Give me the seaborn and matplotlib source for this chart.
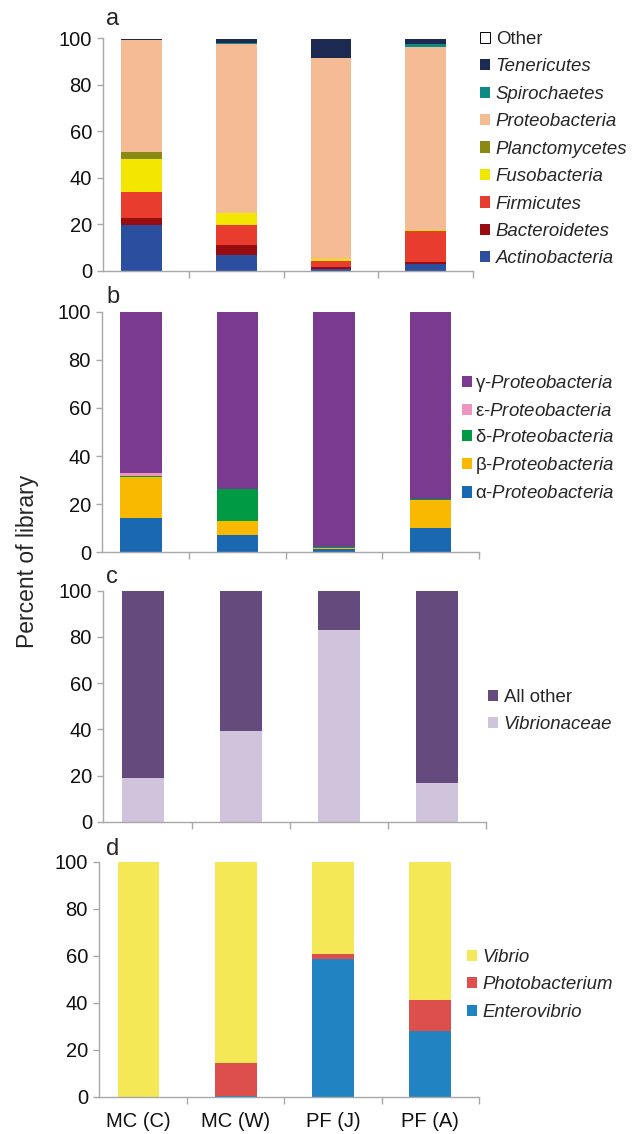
import numpy as np
import matplotlib
matplotlib.use("Agg")
import matplotlib.pyplot as plt
import seaborn as sns
from matplotlib.patches import Patch

samples = ["MC (C)", "MC (W)", "PF (J)", "PF (A)"]

# Panel a: phyla (bottom to top)
phyla = ["Actinobacteria", "Bacteroidetes", "Firmicutes", "Fusobacteria",
         "Planctomycetes", "Proteobacteria", "Spirochaetes", "Tenericutes", "Other"]
actinobacteria = [19.8, 6.9, 0.9, 3.0]
bacteroidetes = [3.0, 4.1, 1.0, 0.9]
firmicutes = [11.0, 8.8, 2.5, 13.3]
fusobacteria = [14.5, 5.0, 0.6, 0.4]
planctomycetes = [2.8, 0.3, 0.0, 0.0]
proteobacteria = [48.2, 72.5, 86.5, 78.8]
spirochaetes = [0.0, 0.4, 0.1, 1.0]
tenericutes = [0.4, 1.6, 8.0, 2.2]
other = [0.3, 0.4, 0.4, 0.4]
phyla_colors = ["#2b4f9e", "#960c10", "#e83c2f", "#f3e600", "#8a8a12",
                "#f5bb94", "#0e8a84", "#1c2951", "#ffffff"]

# Panel b: Proteobacteria classes (bottom to top)
classes = ["α-Proteobacteria", "β-Proteobacteria", "δ-Proteobacteria",
           "ε-Proteobacteria", "γ-Proteobacteria"]
alpha_p = [14.4, 7.2, 1.3, 10.0]
beta_p = [17.0, 5.8, 0.4, 11.6]
delta_p = [0.2, 13.2, 0.5, 0.4]
epsilon_p = [1.2, 0.0, 0.0, 0.0]
gamma_p = [67.2, 73.8, 97.8, 78.0]
class_colors = ["#1a68b0", "#f8b900", "#009a44", "#ee95bf", "#7a3a8f"]

# Panel c: families (bottom to top)
families = ["Vibrionaceae", "All other"]
vibrionaceae = [18.8, 39.2, 83.0, 16.6]
all_other = [81.2, 60.8, 17.0, 83.4]
family_colors = ["#d0c3dc", "#654a7d"]

# Panel d: genera (bottom to top)
genera = ["Enterovibrio", "Photobacterium", "Vibrio"]
enterovibrio = [0.0, 0.6, 58.5, 27.9]
photobacterium = [0.0, 13.7, 2.3, 13.2]
vibrio = [100.0, 85.7, 39.2, 58.9]
genus_colors = ["#2283c2", "#dd4f4c", "#f5e856"]

sns.set_style("white")
plt.rcParams["font.family"] = ["Liberation Sans", "DejaVu Sans"]
plt.rcParams["mathtext.fontset"] = "custom"
plt.rcParams["mathtext.it"] = "Liberation Sans:italic"
plt.rcParams["mathtext.rm"] = "Liberation Sans"

W, H = 638, 1134
fig = plt.figure(figsize=(W / 100, H / 100), dpi=100)

def fx(px):
    return px / W

def fy(py):
    return 1 - py / H

# (left, right, top, bottom) in pixels
panels = [(103, 473, 38.3, 271.0), (102, 479, 311.7, 552.3),
          (103, 486, 590.7, 821.7), (99, 479, 861.7, 1097.0)]
axes = []
for l, r, top, bot in panels:
    ax = fig.add_axes([fx(l), fy(bot), (r - l) / W, (bot - top) / H])
    axes.append(ax)

grey = "#a8a8a8"
XMIN = -0.406

def stacked(ax, layers, colors):
    cum = np.cumsum(np.array(layers, dtype=float), axis=0)
    for i in range(len(layers) - 1, -1, -1):
        sns.barplot(x=samples, y=cum[i], order=samples, color=colors[i],
                    saturation=1, width=0.43, errorbar=None, ax=ax,
                    edgecolor="none", linewidth=0)
    ax.set_xlim(XMIN, 3.5)
    ax.set_ylim(0, 100)
    ax.set_yticks([0, 20, 40, 60, 80, 100])
    ax.set_xticks(range(4))
    ax.set_xticks(np.arange(0.5, 4.0, 1.0), minor=True)
    ax.set_xlabel("")
    ax.set_ylabel("")
    for s in ["top", "right"]:
        ax.spines[s].set_visible(False)
    for s in ["left", "bottom"]:
        ax.spines[s].set_color(grey)
        ax.spines[s].set_linewidth(1.0)
    ax.tick_params(axis="x", which="major", length=0, bottom=True)
    ax.tick_params(axis="x", which="minor", length=5, width=1.0, color=grey,
                   bottom=True, direction="out")
    ax.tick_params(axis="y", length=4, width=1.0, color=grey, left=True,
                   labelsize=14.5, pad=4, labelcolor="#111111")

stacked(axes[0], [actinobacteria, bacteroidetes, firmicutes, fusobacteria, planctomycetes,
                  proteobacteria, spirochaetes, tenericutes, other], phyla_colors)
stacked(axes[1], [alpha_p, beta_p, delta_p, epsilon_p, gamma_p], class_colors)
stacked(axes[2], [vibrionaceae, all_other], family_colors)
stacked(axes[3], [enterovibrio, photobacterium, vibrio], genus_colors)

for ax in axes[:3]:
    ax.tick_params(axis="x", which="major", labelbottom=False)
axes[3].set_xticklabels(samples, fontsize=14.5, color="#111111")
axes[3].tick_params(axis="x", which="major", pad=11)

# panel letters
gaps = [13, 9, 8, 7]
for letter, (l, r, top, bot), g in zip("abcd", panels, gaps):
    fig.text(fx(106), fy(top - g), letter, fontsize=17, ha="left", va="baseline")

fig.text(fx(27.5), fy(561), "Percent of library", rotation=90, fontsize=16.5,
         ha="center", va="center")

def make_legend(labels, colors, x_px, ytop_px, italic_mask, pad=0.3, spacing=0.56):
    handles = []
    for col in colors:
        if col == "#ffffff":
            handles.append(Patch(facecolor=col, edgecolor="#000000", linewidth=0.7))
        else:
            handles.append(Patch(facecolor=col, edgecolor=col, linewidth=0))
    leg = fig.legend(handles, labels, loc="upper left",
                     bbox_to_anchor=(fx(x_px), fy(ytop_px)),
                     frameon=False, fontsize=13.4, handlelength=0.55, handleheight=0.55,
                     handletextpad=pad, labelspacing=spacing, borderpad=0, borderaxespad=0)
    for t, itl in zip(leg.get_texts(), italic_mask):
        if itl:
            t.set_fontstyle("italic")
    return leg

# Panel a legend (top to bottom)
labs_a = phyla[::-1]
make_legend(labs_a, phyla_colors[::-1], 480, 31, [False] + [True] * 8)

labs_b = [c.split("-")[0] + r"-$\mathit{Proteobacteria}$" for c in classes[::-1]]
make_legend(labs_b, class_colors[::-1], 462, 373, [False] * 5, pad=0.15, spacing=0.49)

labs_c = ["All other", "Vibrionaceae"]
make_legend(labs_c, family_colors[::-1], 488, 689, [False, True])

labs_d = genera[::-1]
make_legend(labs_d, genus_colors[::-1], 467, 949, [True, True, True])

fig.savefig("out.png", dpi=100)
